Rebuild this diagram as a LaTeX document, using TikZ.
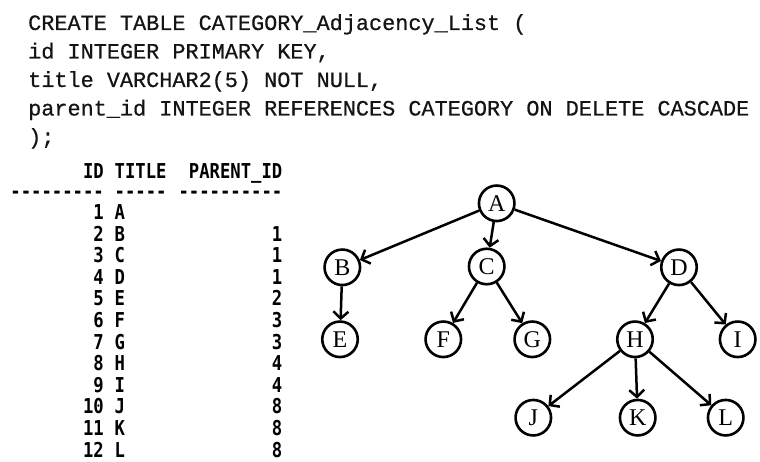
\documentclass[tikz,border=0pt]{standalone}
\usepackage{fontspec}
\usetikzlibrary{arrows.meta}
\setmainfont{Liberation Serif}
\newfontfamily\sqlfont[FakeBold=0.6]{Liberation Mono}
\newfontfamily\tabfont[FakeStretch=0.84]{DejaVu Sans Mono}
\definecolor{codeink}{HTML}{141414}

\begin{document}
\begin{tikzpicture}[x=1pt,y=-1pt,
  sqlline/.style={anchor=base west,inner sep=0pt,text=codeink,
    font=\sqlfont\fontsize{21.85}{22}\selectfont},
  cellL/.style={anchor=base west,inner sep=0pt,
    font=\tabfont\bfseries\fontsize{20.5}{21}\selectfont},
  cellR/.style={anchor=base east,inner sep=0pt,
    font=\tabfont\bfseries\fontsize{20.5}{21}\selectfont},
  vtx/.style={circle,draw,line width=2.6pt,minimum size=35.5pt,inner sep=0pt,
    font=\fontsize{24}{24}\selectfont},
  edge/.style={line width=2.5pt,-{Straight Barb[length=7pt,width=15pt]}}]

\useasboundingbox (0,0) rectangle (760,462);

% DDL statement
\node[sqlline] (l1) at (28,30)    {CREATE TABLE CATEGORY\_Adjacency\_List (};
\node[sqlline] (l2) at (28,58.5)  {id INTEGER PRIMARY KEY,};
\node[sqlline] (l3) at (28,87)    {title VARCHAR2(5) NOT NULL,};
\node[sqlline] (l4) at (28,115.5) {parent\_id INTEGER REFERENCES CATEGORY ON DELETE CASCADE};
\node[sqlline] (l5) at (28,144)   {);};

% query result: column edges at 104 / 114.5 / 282.5
\node[cellR] (hid)  at (104,179)   {ID};
\node[cellL] (htit) at (114.5,179) {TITLE};
\node[cellR] (hpar) at (282.5,179) {PARENT\_ID};
\node[cellR] (d1) at (104,199)   {---------};
\node[cellL] (d2) at (114.5,199) {-----};
\node[cellR] (d3) at (282.5,199) {----------};

\foreach \i/\t/\p [count=\k from 0] in
  {1/A/, 2/B/1, 3/C/1, 4/D/1, 5/E/2, 6/F/3, 7/G/3, 8/H/4, 9/I/4, 10/J/8, 11/K/8, 12/L/8}{
  \node[cellR] (id\i)  at (104,219.5+21.6*\k)   {\i};
  \node[cellL] (ti\i)  at (114.5,219.5+21.6*\k) {\t};
  \node[cellR] (pa\i)  at (282.5,219.5+21.6*\k) {\p};
}

% tree
\node[vtx] (A) at (496.7,203.3) {A};
\node[vtx] (B) at (342.3,267.3) {B};
\node[vtx] (C) at (486.7,266.5) {C};
\node[vtx] (D) at (679,267.3)   {D};
\node[vtx] (E) at (340,339.3)   {E};
\node[vtx] (F) at (443.3,339.3) {F};
\node[vtx] (G) at (532.3,339.3) {G};
\node[vtx] (H) at (635,339.3)   {H};
\node[vtx] (I) at (737.7,339.3) {I};
\node[vtx] (J) at (533.3,417.7) {J};
\node[vtx] (K) at (637.7,417.7) {K};
\node[vtx] (L) at (725.7,417.7) {L};

\foreach \u/\v in {A/B, A/C, A/D, B/E, C/F, C/G, D/H, D/I, H/J, H/K, H/L}
  \draw[edge] (\u) -- (\v);
\end{tikzpicture}
\end{document}
